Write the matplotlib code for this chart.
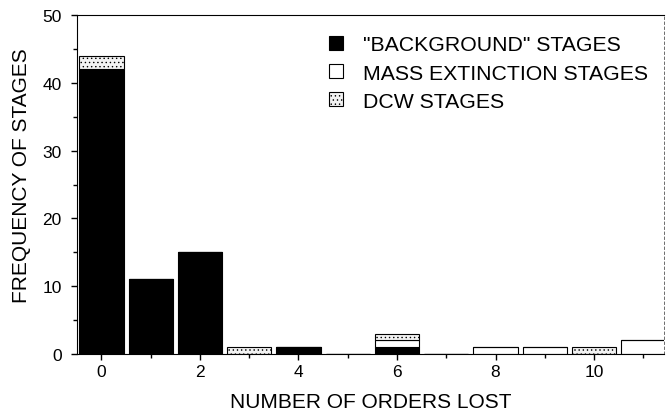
import numpy as np
import matplotlib.pyplot as plt

plt.rcParams['font.family'] = ['Liberation Sans', 'DejaVu Sans']
plt.rcParams['hatch.linewidth'] = 0.5
plt.rcParams['hatch.color'] = '#777777'

orders_lost = np.arange(0, 12)
background = [42, 11, 15, 0, 1, 0, 1, 0, 0, 0, 0, 0]
mass_extinction = [0, 0, 0, 0, 0, 0, 1, 0, 1, 1, 0, 2]
dcw = [2, 0, 0, 1, 0, 0, 1, 0, 0, 0, 1, 0]

background = np.array(background)
mass_extinction = np.array(mass_extinction)
dcw = np.array(dcw)

fig = plt.figure(figsize=(6.68, 4.14), dpi=100)
ax = fig.add_axes([0.115, 0.1425, 0.879, 0.8185])

w = 0.9
ax.bar(orders_lost, background, width=w, color='black', edgecolor='black',
       linewidth=0.8, label='"BACKGROUND" STAGES')
ax.bar(orders_lost, mass_extinction, width=w, bottom=background, color='white',
       edgecolor='black', linewidth=0.8, label='MASS EXTINCTION STAGES')
ax.bar(orders_lost, dcw, width=w, bottom=background + mass_extinction,
       color='#f2f2f2', edgecolor='black', linewidth=0.8, hatch='....',
       label='DCW STAGES')

ax.set_xlim(-0.5, 11.42)
ax.set_ylim(0, 50)
ax.set_xticks([0, 2, 4, 6, 8, 10])
ax.set_xticks(np.arange(1, 12, 2), minor=True)
ax.set_yticks([0, 10, 20, 30, 40, 50])
ax.set_yticks(np.arange(5, 50, 10), minor=True)
ax.tick_params(axis='both', which='major', labelsize=12.5, length=4, width=1)
ax.tick_params(axis='both', which='minor', length=3, width=1)
ax.tick_params(axis='y', which='major', pad=7)
ax.spines['right'].set_linestyle((0, (3, 3)))
ax.spines['right'].set_linewidth(0.6)
ax.spines['right'].set_color('#555555')

ax.set_xlabel('NUMBER OF ORDERS LOST', fontsize=15, labelpad=9)
ax.set_ylabel('FREQUENCY OF STAGES', fontsize=15, labelpad=8, y=0.53)

ax.legend(loc='upper left', bbox_to_anchor=(0.4925, 0.912),
          bbox_transform=fig.transFigure, frameon=False, borderpad=0,
          borderaxespad=0, fontsize=15.3, handlelength=0.65,
          handleheight=0.65, handletextpad=0.95, labelspacing=0.43)

fig.savefig('out.png', dpi=100)
